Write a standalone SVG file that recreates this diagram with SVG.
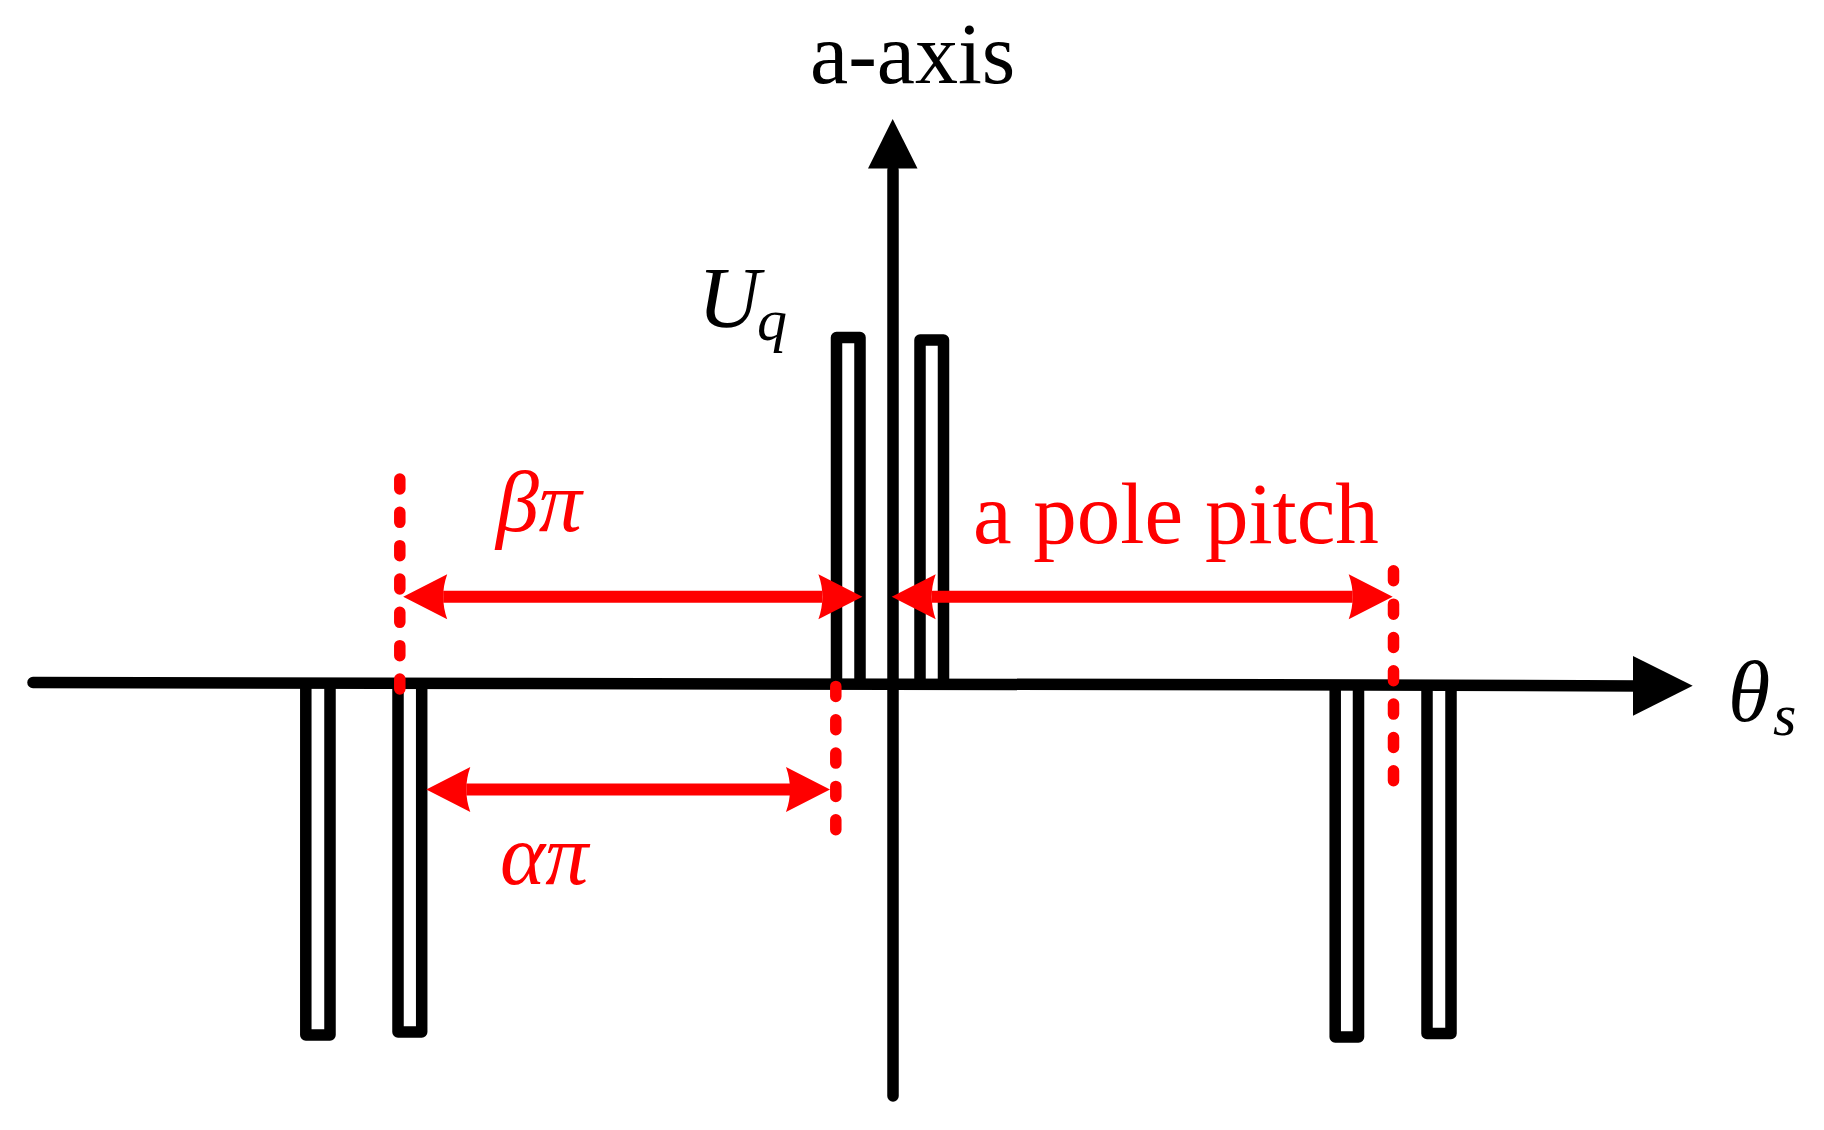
<svg xmlns="http://www.w3.org/2000/svg" width="1824" height="1130" viewBox="0 0 1824 1130">
<style>
.ax{stroke:#000;stroke-width:11.5;fill:none;stroke-linecap:round}
.slot{stroke:#000;stroke-width:11.5;fill:none;stroke-linejoin:round}
.dash{stroke:#ff0000;stroke-width:11.5;fill:none;stroke-linecap:round;stroke-dasharray:10 23.33}
.dim{stroke:#ff0000;stroke-width:12;fill:none}
.red{fill:#ff0000}
</style>
<defs>
<marker id="rh" markerUnits="userSpaceOnUse" markerWidth="60" markerHeight="60" viewBox="-10 -30 60 60" refX="0" refY="0" orient="auto-start-reverse" overflow="visible">
<path d="M-4,-22.5 L40,0 L-4,22.5 Q4,0 -4,-22.5 Z" fill="#ff0000"/>
</marker>
</defs>
<g id="axes">
<path class="ax" d="M33,682.5 L527,683.5 L1367,685 L1640,686"/>
<path class="ax" d="M893,170 L893,1096"/>
<polygon points="1692.7,685.7 1633,656 1633,715.7" fill="#000"/>
<polygon points="892.7,119 868,168.5 917.5,168.5" fill="#000"/>
</g>
<g id="slots">
<path id="s1" class="slot" d="M305.8,683 V1035 H330 V683"/>
<path id="s2" class="slot" d="M398,683 V1032 H421.7 V683"/>
<path id="s3" class="slot" d="M1335.2,685 V1037 H1358.5 V685"/>
<path id="s4" class="slot" d="M1427,685 V1033.5 H1451 V685"/>
<path id="c1" class="slot" d="M836.5,684 V337.5 H860 V684"/>
<path id="c2" class="slot" d="M920,684.5 V340 H943.5 V684.5"/>
</g>
<g id="connectors">
<line class="dash" x1="399.8" y1="479" x2="399.8" y2="689"/>
<line class="dash" x1="835.8" y1="686.4" x2="835.8" y2="830"/>
<line class="dash" x1="1393.5" y1="570.8" x2="1393.5" y2="781"/>
<line class="dim" x1="443.2" y1="596.7" x2="822.4" y2="596.7" marker-start="url(#rh)" marker-end="url(#rh)"/>
<line class="dim" x1="931.7" y1="596.7" x2="1352.7" y2="596.7" marker-start="url(#rh)" marker-end="url(#rh)"/>
<line class="dim" x1="466.3" y1="789.5" x2="790" y2="789.5" marker-start="url(#rh)" marker-end="url(#rh)"/>
</g>
<g id="labels" font-family="Liberation Serif, Times New Roman, serif" font-size="86">
<text x="810" y="83">a-axis</text>
<text x="698" y="327" font-style="italic">U</text>
<text x="757" y="340" font-size="60" font-style="italic">q</text>
<text x="1728" y="721" font-style="italic">θ</text>
<text x="1773" y="735" font-size="60" font-style="italic">s</text>
<text class="red" x="496" y="531" font-style="italic">βπ</text>
<text class="red" x="500" y="884" font-style="italic">απ</text>
<text class="red" x="973" y="542.7" font-size="87">a pole pitch</text>
</g>
</svg>
